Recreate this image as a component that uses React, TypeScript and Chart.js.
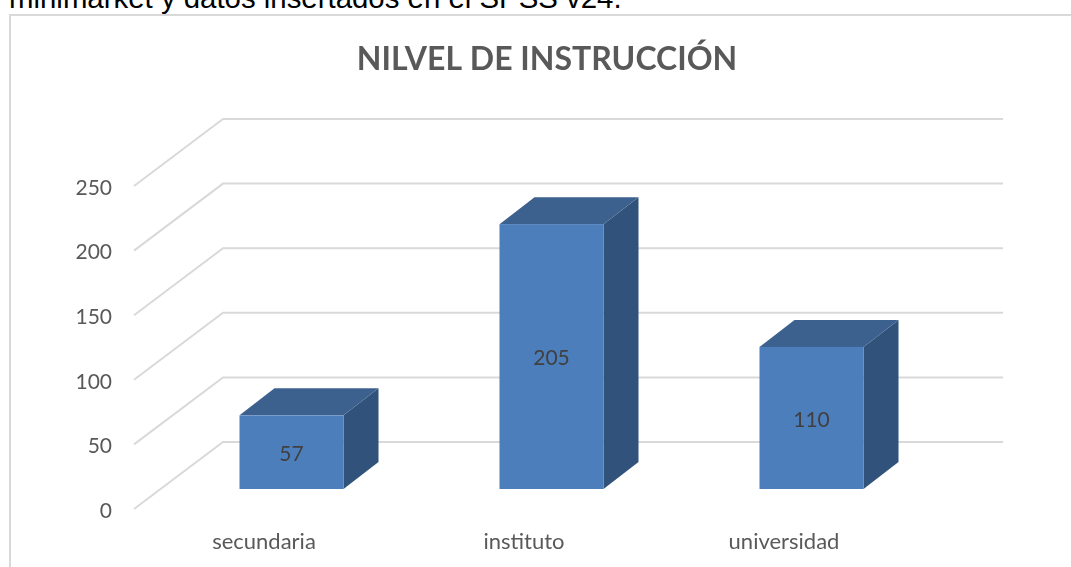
import React, { useEffect, useRef } from "react";
import { Chart, registerables } from "chart.js";

Chart.register(...registerables);

const categories = ["secundaria", "instituto", "universidad"];
const counts = [57, 205, 110];
const titleText = "NILVEL DE INSTRUCCIÓN";
const headingText = "minimarket y datos insertados en el SPSS v24.";

const FONT = "Lato, Carlito, Calibri, sans-serif";
const WALL_DX = 89;
const WALL_DY = 67;
const BAR_OFFSET_DX = 27.5;
const BAR_OFFSET_DY = 20;
const BAR_DEPTH_DX = 35;
const BAR_DEPTH_DY = 27;

const box3d = {
  id: "box3d",
  beforeDatasetsDraw(chart: any) {
    const { ctx, chartArea, scales } = chart;
    ctx.save();
    ctx.strokeStyle = "#d9d9d9";
    ctx.lineWidth = 2;
    for (const tick of scales.y.ticks) {
      const y = scales.y.getPixelForValue(tick.value);
      ctx.beginPath();
      ctx.moveTo(chartArea.left, y);
      ctx.lineTo(chartArea.left + WALL_DX, y - WALL_DY);
      ctx.lineTo(chartArea.right + WALL_DX, y - WALL_DY);
      ctx.stroke();
    }
    ctx.restore();
  },
  afterDatasetsDraw(chart: any) {
    const { ctx } = chart;
    const meta = chart.getDatasetMeta(0);
    ctx.save();
    meta.data.forEach((bar: any, i: number) => {
      const w = bar.width;
      const l = bar.x - w / 2 + BAR_OFFSET_DX;
      const r = l + w;
      const t = bar.y - BAR_OFFSET_DY;
      const b = bar.base - BAR_OFFSET_DY;
      ctx.fillStyle = "#31527a";
      ctx.beginPath();
      ctx.moveTo(r, t);
      ctx.lineTo(r + BAR_DEPTH_DX, t - BAR_DEPTH_DY);
      ctx.lineTo(r + BAR_DEPTH_DX, b - BAR_DEPTH_DY);
      ctx.lineTo(r, b);
      ctx.closePath();
      ctx.fill();
      ctx.fillStyle = "#3d618f";
      ctx.beginPath();
      ctx.moveTo(l, t);
      ctx.lineTo(l + BAR_DEPTH_DX, t - BAR_DEPTH_DY);
      ctx.lineTo(r + BAR_DEPTH_DX, t - BAR_DEPTH_DY);
      ctx.lineTo(r, t);
      ctx.closePath();
      ctx.fill();
      ctx.fillStyle = "#4d7ebc";
      ctx.fillRect(l, t, w, b - t);
      ctx.fillStyle = "#404040";
      ctx.font = `21px ${FONT}`;
      ctx.textAlign = "center";
      ctx.textBaseline = "middle";
      ctx.fillText(String(counts[i]), (l + r) / 2, (t + b) / 2 + 2);
    });
    ctx.restore();
  },
};

export default function App() {
  const ref = useRef<HTMLCanvasElement>(null);
  useEffect(() => {
    const chart = new Chart(ref.current!, {
      type: "bar",
      data: {
        labels: categories,
        datasets: [
          {
            data: counts,
            backgroundColor: "rgba(0,0,0,0)",
            barPercentage: 0.4,
            categoryPercentage: 1,
          },
        ],
      },
      options: {
        animation: false,
        responsive: false,
        layout: { padding: 0 },
        plugins: {
          legend: { display: false },
          tooltip: { enabled: false },
          title: {
            display: true,
            text: titleText,
            color: "#595959",
            font: { family: FONT, size: 32, weight: "bold", lineHeight: 1.2 },
            padding: { top: 24, bottom: 107.6 },
          },
        },
        scales: {
          x: {
            grid: { display: false },
            border: { display: false },
            ticks: { color: "#595959", font: { family: FONT, size: 22 }, padding: 12, maxRotation: 0 },
            afterFit: (s: any) => { s.height = 67; },
          },
          y: {
            min: 0,
            max: 250,
            grid: { display: false },
            border: { display: false },
            ticks: { stepSize: 50, color: "#595959", font: { family: FONT, size: 21 }, padding: 14, labelOffset: 2 },
            afterFit: (s: any) => { s.width = 124; },
          },
          gutter: {
            position: "right",
            grid: { display: false },
            border: { display: false },
            ticks: { display: false },
            afterFit: (s: any) => { s.width = 170; },
          },
        },
      },
      plugins: [box3d],
    } as any);
    return () => chart.destroy();
  }, []);
  return (
    <div style={{ position: "fixed", left: 0, top: 0, width: 1071, height: 567, overflow: "hidden", background: "#fff" }}>
      <div style={{ position: "absolute", left: 9, top: -17, fontFamily: "'Liberation Sans', Arial, sans-serif", fontSize: 29.4, lineHeight: "30px", color: "#000", whiteSpace: "nowrap" }}>
        {headingText}
      </div>
      <div style={{ position: "absolute", left: 9, top: 14, width: 1200, height: 700, border: "2px solid #d9d9d9", boxSizing: "border-box" }} />
      <canvas ref={ref} width={1074} height={560} style={{ position: "absolute", left: 10, top: 16, display: "block" }} />
    </div>
  );
}
